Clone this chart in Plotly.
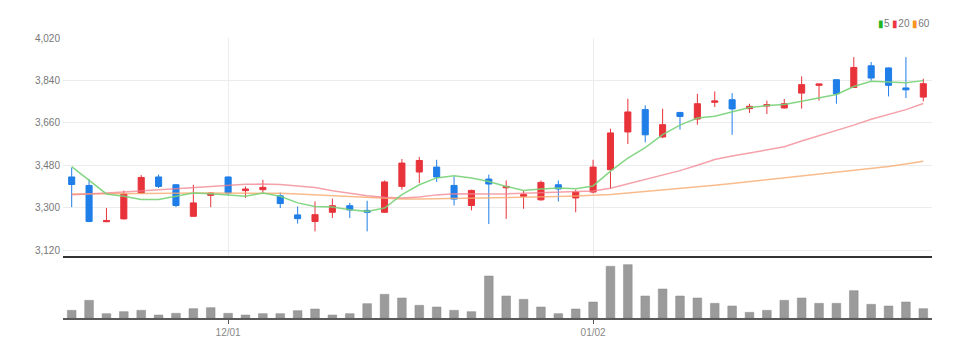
import plotly.graph_objects as go

dates = ["11/18", "11/21", "11/22", "11/23", "11/24", "11/25", "11/28", "11/29", "11/30",
         "12/01", "12/02", "12/05", "12/06", "12/07", "12/08", "12/09", "12/12", "12/13",
         "12/14", "12/15", "12/16", "12/19", "12/20", "12/21", "12/22", "12/23", "12/26",
         "12/27", "12/28", "12/29", "01/02", "01/03", "01/04", "01/05", "01/06", "01/09",
         "01/10", "01/11", "01/12", "01/13", "01/16", "01/17", "01/18", "01/19", "01/20",
         "01/25", "01/26", "01/27", "01/30", "01/31"]

open_ = [3430, 3394, 3240, 3252, 3362, 3430, 3397, 3263, 3352, 3430,
         3372, 3376, 3350, 3269, 3241, 3280, 3308, 3288, 3280, 3390,
         3451, 3472, 3394, 3309, 3421, 3384, 3348, 3333, 3397, 3341,
         3366, 3461, 3621, 3716, 3600, 3704, 3676, 3747, 3758, 3720,
         3731, 3723, 3786, 3819, 3843, 3810, 3902, 3893, 3808, 3769]
high = [3470, 3421, 3298, 3372, 3438, 3440, 3400, 3397, 3364, 3432,
        3390, 3418, 3364, 3305, 3326, 3338, 3320, 3329, 3415, 3506,
        3515, 3503, 3432, 3376, 3440, 3415, 3373, 3415, 3415, 3376,
        3503, 3635, 3762, 3734, 3720, 3706, 3783, 3793, 3786, 3741,
        3754, 3761, 3857, 3826, 3845, 3939, 3918, 3895, 3939, 3847]
low = [3302, 3238, 3238, 3250, 3360, 3383, 3302, 3260, 3302, 3352,
       3341, 3362, 3298, 3232, 3199, 3256, 3256, 3199, 3278, 3376,
       3404, 3409, 3309, 3288, 3230, 3252, 3295, 3329, 3326, 3280,
       3360, 3379, 3570, 3577, 3595, 3631, 3652, 3727, 3609, 3702,
       3697, 3720, 3720, 3754, 3741, 3808, 3839, 3772, 3765, 3751]
close = [3398, 3241, 3245, 3358, 3428, 3390, 3309, 3320, 3362, 3362,
         3379, 3386, 3317, 3253, 3270, 3308, 3290, 3280, 3409, 3489,
         3500, 3430, 3336, 3373, 3400, 3390, 3355, 3407, 3379, 3366,
         3472, 3617, 3706, 3609, 3652, 3687, 3741, 3753, 3719, 3730,
         3737, 3741, 3822, 3825, 3783, 3895, 3850, 3819, 3800, 3826]

ma5 = [3474, 3416, 3358, 3348, 3334, 3334, 3348, 3362, 3359, 3352,
       3348, 3362, 3348, 3320, 3305, 3303, 3291, 3284, 3298, 3355,
       3397, 3426, 3435, 3426, 3411, 3390, 3373, 3379, 3383, 3380,
       3392, 3455, 3510, 3555, 3610, 3650, 3680, 3688, 3708, 3725,
       3733, 3738, 3751, 3766, 3780, 3814, 3836, 3833, 3830, 3839]
ma20 = [3355, 3357, 3362, 3366, 3372, 3376, 3380, 3385, 3390, 3396,
        3399, 3400, 3398, 3392, 3385, 3372, 3360, 3350, 3344, 3341,
        3345, 3354, 3359, 3360, 3358, 3358, 3360, 3365, 3366, 3366,
        3370, 3382, 3401, 3419, 3438, 3457, 3480, 3504, 3519, 3531,
        3543, 3558, 3583, 3605, 3625, 3650, 3675, 3695, 3716, 3742]
ma60 = [3358, 3358, 3359, 3360, 3360, 3361, 3361, 3362, 3362, 3362,
        3362, 3362, 3361, 3358, 3354, 3350, 3346, 3342, 3338, 3336,
        3336, 3337, 3338, 3339, 3340, 3341, 3343, 3345, 3347, 3349,
        3352, 3356, 3362, 3368, 3374, 3381, 3388, 3395, 3402, 3410,
        3417, 3424, 3432, 3440, 3448, 3456, 3465, 3474, 3485, 3497]

volume = [23, 53, 13, 19, 23, 9, 14, 28, 31, 14,
          9, 13, 13, 22, 27, 9, 13, 43, 71, 60,
          38, 33, 23, 19, 126, 66, 56, 33, 13, 27,
          48, 155, 160, 66, 87, 66, 60, 44, 36, 17,
          23, 53, 60, 44, 44, 82, 41, 36, 48, 28]

price_ticks = [3120, 3300, 3480, 3660, 3840, 4020]
date_ticks = ["12/01", "01/02"]

UP = "#e8333b"
DOWN = "#1f7ee8"
FONT = "Liberation Sans Narrow, Arial Narrow, Liberation Sans, sans-serif"

fig = go.Figure()

fig.add_trace(go.Scatter(x=dates, y=ma60, mode="lines", line=dict(color="rgba(247,170,110,0.8)", width=1.5),
                         xaxis="x", yaxis="y", hoverinfo="skip"))
fig.add_trace(go.Scatter(x=dates, y=ma20, mode="lines", line=dict(color="rgba(242,130,140,0.75)", width=1.5),
                         xaxis="x", yaxis="y", hoverinfo="skip"))
fig.add_trace(go.Scatter(x=dates, y=ma5, mode="lines", line=dict(color="rgba(120,210,120,0.9)", width=1.5),
                         xaxis="x", yaxis="y", hoverinfo="skip"))

fig.add_trace(go.Candlestick(
    x=dates, open=open_, high=high, low=low, close=close,
    increasing=dict(line=dict(color=UP, width=1), fillcolor=UP),
    decreasing=dict(line=dict(color=DOWN, width=1), fillcolor=DOWN),
    xaxis="x", yaxis="y"))

fig.add_trace(go.Bar(x=dates, y=volume, marker=dict(color="#9b9b9b", line=dict(color="#8a8a8a", width=0.5)),
                     width=0.5, xaxis="x2", yaxis="y2"))

# page body has an 8px margin: compensate so the plot lands where the reference has it
fig.update_layout(
    width=965, height=349,
    margin=dict(l=55, r=41, t=30, b=39),
    paper_bgcolor="white", plot_bgcolor="white",
    showlegend=False,
    boxgap=0.5,
    font=dict(family=FONT, size=11, color="#777"),
    xaxis=dict(type="category", domain=[0, 1], anchor="y", range=[-0.5, 49.5],
               rangeslider=dict(visible=False), showticklabels=False,
               tickvals=date_ticks, showgrid=True, gridcolor="#ececec", gridwidth=1,
               showline=True, linecolor="#333", linewidth=2, ticks="", zeroline=False,
               fixedrange=True),
    yaxis=dict(domain=[0.221, 1], range=[3094, 4020], tickvals=price_ticks, tickformat=",",
               showgrid=True, gridcolor="#ececec", zeroline=False, showline=False, ticks="",
               tickfont=dict(family=FONT, size=10, color="#777"), ticklabelstandoff=2),
    xaxis2=dict(type="category", domain=[0, 1], anchor="y2", range=[-0.5, 49.5],
                tickvals=date_ticks, ticktext=date_ticks, showgrid=False,
                showline=True, linecolor="#5a5a5a", linewidth=2,
                ticks="outside", ticklen=4, tickcolor="#555", tickwidth=1,
                tickfont=dict(family=FONT, size=10, color="#888"), zeroline=False),
    yaxis2=dict(domain=[0, 0.2], range=[0, 168], showticklabels=False, showgrid=False,
                zeroline=False, showline=False, ticks=""),
    annotations=[dict(
        xref="paper", yref="paper", x=1.0, y=1.025, xanchor="right", yanchor="bottom",
        showarrow=False, font=dict(family=FONT, size=10, color="#777"),
        text=("<span style='color:#22b422'>▮</span>5 "
              "<span style='color:#ee3344'>▮</span>20 "
              "<span style='color:#f7941d'>▮</span>60"))],
)

fig.write_html("out.html")
